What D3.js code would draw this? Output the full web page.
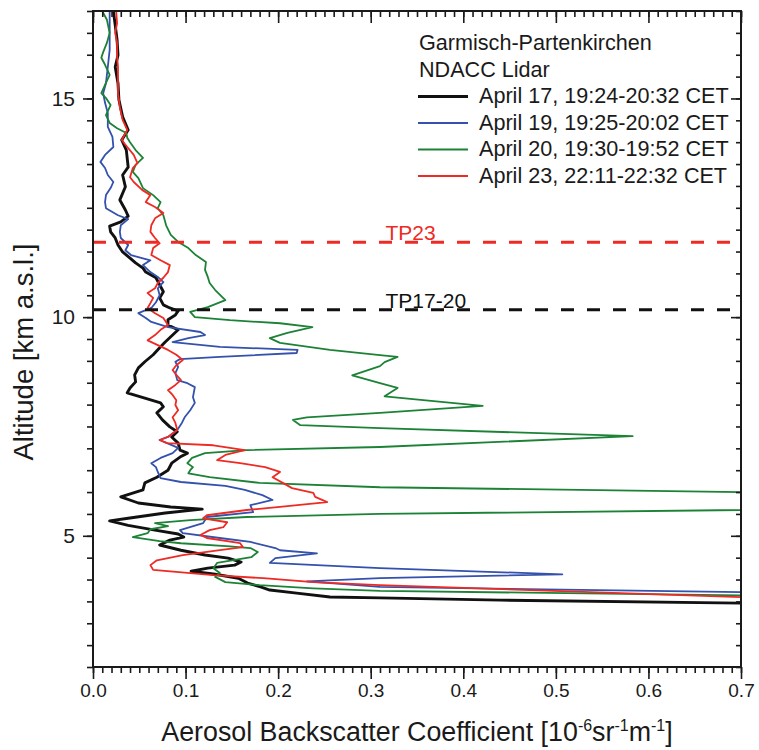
<!DOCTYPE html>
<html><head><meta charset="utf-8">
<script src="https://cdn.jsdelivr.net/npm/d3@7"></script>
<style>
body{margin:0;background:#fff}
svg{display:block}
text{font-family:"Liberation Sans",Arial,Helvetica,sans-serif;fill:#1a1a1a}
</style>
</head><body>
<svg id="chart" width="759" height="750"></svg>
<script>
// ---------- data (altitude km a.s.l., backscatter 1e-6 sr-1 m-1) ----------
const seriesNames = ["April 17, 19:24-20:32 CET","April 19, 19:25-20:02 CET","April 20, 19:30-19:52 CET","April 23, 22:11-22:32 CET"];
const seriesColors = ["#111111","#3351ad","#1c8236","#ee2a24"];
const headerLines = ["Garmisch-Partenkirchen","NDACC Lidar"];

const alt17 = [17.00,16.68,16.34,15.99,15.72,15.35,14.97,14.58,14.28,14.05,13.82,13.43,13.25,12.98,12.68,12.45,12.31,12.18,12.08,11.95,11.81,11.65,11.49,11.35,11.24,11.12,11.03,10.90,10.74,10.58,10.44,10.28,10.21,10.14,10.05,9.94,9.82,9.71,9.59,9.43,9.30,9.14,8.98,8.84,8.68,8.52,8.38,8.27,8.15,8.04,7.95,7.81,7.65,7.49,7.38,7.26,7.12,6.96,6.89,6.80,6.66,6.50,6.34,6.21,6.05,5.89,5.75,5.66,5.61,5.52,5.40,5.34,5.24,5.13,5.04,4.97,4.90,4.79,4.67,4.56,4.49,4.40,4.33,4.26,4.19,4.12,4.03,3.92,3.83,3.76,3.69,3.60,3.58,3.53,3.46,3.42];
const bsc17 = [0.022,0.024,0.026,0.027,0.024,0.027,0.028,0.032,0.038,0.031,0.036,0.038,0.032,0.035,0.029,0.035,0.038,0.030,0.018,0.019,0.024,0.027,0.032,0.040,0.046,0.054,0.057,0.068,0.072,0.076,0.072,0.076,0.083,0.092,0.089,0.081,0.081,0.092,0.086,0.078,0.072,0.065,0.056,0.049,0.045,0.046,0.040,0.037,0.056,0.073,0.076,0.069,0.075,0.083,0.091,0.085,0.092,0.094,0.102,0.094,0.085,0.081,0.069,0.056,0.054,0.030,0.049,0.084,0.118,0.078,0.038,0.018,0.038,0.067,0.092,0.098,0.083,0.072,0.095,0.121,0.146,0.160,0.153,0.124,0.106,0.132,0.157,0.167,0.181,0.191,0.220,0.256,0.310,0.440,0.700,0.764];

const alt19 = [17.00,16.50,16.11,15.72,15.35,15.12,14.90,14.67,14.35,14.12,13.89,13.71,13.55,13.41,13.25,13.09,12.95,12.79,12.63,12.49,12.33,12.24,12.10,11.95,11.81,11.65,11.53,11.42,11.30,11.19,11.03,10.92,10.80,10.66,10.50,10.34,10.21,10.09,9.98,9.89,9.77,9.66,9.59,9.52,9.43,9.32,9.25,9.18,9.09,9.04,8.98,8.86,8.72,8.56,8.49,8.40,8.17,8.04,7.87,7.71,7.58,7.42,7.26,7.19,7.12,7.01,6.89,6.78,6.66,6.57,6.46,6.32,6.23,6.14,6.05,5.93,5.82,5.70,5.54,5.43,5.29,5.13,5.06,4.95,4.86,4.72,4.67,4.60,4.49,4.38,4.26,4.12,4.03,3.96,3.83,3.71,3.64];
const bsc19 = [0.018,0.018,0.018,0.016,0.014,0.011,0.013,0.016,0.016,0.021,0.022,0.013,0.008,0.013,0.016,0.022,0.019,0.014,0.013,0.014,0.027,0.038,0.030,0.029,0.030,0.038,0.035,0.041,0.062,0.054,0.062,0.070,0.076,0.070,0.072,0.068,0.063,0.049,0.057,0.063,0.081,0.116,0.121,0.103,0.086,0.137,0.221,0.220,0.137,0.094,0.089,0.092,0.089,0.091,0.102,0.110,0.108,0.110,0.105,0.099,0.096,0.091,0.081,0.072,0.080,0.092,0.086,0.073,0.063,0.068,0.070,0.073,0.095,0.143,0.164,0.183,0.194,0.170,0.173,0.123,0.119,0.094,0.097,0.137,0.170,0.197,0.202,0.242,0.197,0.191,0.310,0.507,0.310,0.231,0.310,0.700,0.764];

const alt20 = [17.00,16.80,16.50,16.27,16.06,15.93,15.77,15.54,15.31,15.12,15.01,14.85,14.62,14.44,14.32,14.21,14.10,14.00,13.82,13.64,13.48,13.32,13.18,12.95,12.79,12.63,12.49,12.33,12.10,11.88,11.72,11.58,11.42,11.26,11.08,10.92,10.78,10.62,10.39,10.23,10.12,10.00,9.93,9.86,9.77,9.64,9.52,9.41,9.25,9.13,9.09,8.97,8.88,8.67,8.49,8.38,8.19,7.97,7.81,7.71,7.65,7.53,7.46,7.28,7.03,6.96,6.89,6.78,6.66,6.57,6.50,6.43,6.34,6.21,6.11,6.00,5.82,5.59,5.50,5.43,5.36,5.29,5.22,5.15,5.06,4.97,4.88,4.83,4.76,4.72,4.63,4.51,4.38,4.26,4.15,4.06,3.94,3.87,3.80,3.74,3.64,3.60];
const bsc20 = [0.010,0.015,0.018,0.015,0.011,0.009,0.013,0.018,0.013,0.009,0.014,0.019,0.014,0.018,0.026,0.036,0.037,0.040,0.046,0.054,0.046,0.043,0.049,0.054,0.065,0.073,0.070,0.076,0.079,0.084,0.092,0.103,0.111,0.122,0.121,0.124,0.126,0.132,0.143,0.124,0.105,0.110,0.148,0.202,0.237,0.210,0.191,0.202,0.256,0.310,0.329,0.315,0.310,0.280,0.310,0.329,0.315,0.421,0.310,0.231,0.216,0.224,0.310,0.583,0.310,0.166,0.121,0.107,0.102,0.108,0.105,0.103,0.126,0.180,0.310,0.700,0.872,0.700,0.310,0.166,0.105,0.067,0.081,0.062,0.059,0.043,0.072,0.095,0.148,0.170,0.178,0.171,0.134,0.130,0.137,0.132,0.143,0.180,0.238,0.310,0.700,0.764];

const alt23 = [17.00,16.72,16.50,16.27,15.95,15.72,15.42,15.12,14.80,14.51,14.28,14.05,13.89,13.71,13.52,13.41,13.20,13.09,12.91,12.79,12.63,12.52,12.38,12.26,12.10,11.95,11.81,11.69,11.58,11.42,11.30,11.19,11.03,10.90,10.78,10.66,10.55,10.44,10.32,10.21,10.09,9.98,9.82,9.71,9.59,9.47,9.36,9.25,9.14,9.02,8.90,8.79,8.68,8.56,8.45,8.33,8.22,8.10,7.99,7.87,7.71,7.58,7.42,7.26,7.19,7.12,7.07,6.96,6.85,6.73,6.66,6.57,6.46,6.34,6.21,6.09,5.98,5.89,5.77,5.66,5.59,5.47,5.40,5.31,5.20,5.13,5.02,4.95,4.83,4.74,4.67,4.56,4.44,4.33,4.22,4.10,4.03,3.94,3.87,3.60,3.53];
const bsc23 = [0.025,0.026,0.024,0.026,0.026,0.027,0.027,0.027,0.029,0.032,0.037,0.031,0.037,0.044,0.048,0.043,0.040,0.044,0.053,0.062,0.057,0.067,0.076,0.067,0.063,0.062,0.067,0.072,0.065,0.063,0.073,0.083,0.081,0.076,0.070,0.067,0.059,0.065,0.062,0.059,0.067,0.076,0.081,0.073,0.067,0.059,0.070,0.081,0.090,0.097,0.090,0.086,0.090,0.095,0.089,0.081,0.086,0.090,0.089,0.092,0.086,0.089,0.091,0.081,0.072,0.080,0.130,0.164,0.143,0.134,0.159,0.186,0.202,0.194,0.205,0.215,0.238,0.240,0.253,0.202,0.166,0.123,0.119,0.145,0.141,0.126,0.116,0.123,0.159,0.162,0.137,0.097,0.069,0.062,0.065,0.130,0.184,0.238,0.310,0.700,0.764];

// tropopause heights (km)
const tropoLabels = ["TP17-20","TP23"];
const tropoHeights = [10.17, 11.71];
const tropoColors = ["#111111","#ee2a24"];

const xMajorTicks = [0,0.1,0.2,0.3,0.4,0.5,0.6,0.7];
const xTickLabels = ["0.0","0.1","0.2","0.3","0.4","0.5","0.6","0.7"];
const yMajorTicks = [5,10,15];
const yTickLabels = ["5","10","15"];

// ---------- layout ----------
const L = 93, R = 741, T = 11, B = 667;
const svg = d3.select("#chart");
const x = d3.scaleLinear().domain([0, 0.7]).range([L, R]);
const y = d3.scaleLinear().domain([2, 17]).range([B, T]);

const xMinor = d3.range(0, 71).map(i => i / 100);
const yMinor = d3.range(4, 35).map(i => i / 2);

svg.append("defs").append("clipPath").attr("id","plotclip")
  .append("rect").attr("x",L).attr("y",T).attr("width",R-L).attr("height",B-T);

// ---------- profiles ----------
const series = [[alt17,bsc17],[alt19,bsc19],[alt20,bsc20],[alt23,bsc23]];
const widths = [2.9,1.8,1.8,1.8];
const line = d3.line().x(d => x(d[1])).y(d => y(d[0]));
const gLines = svg.append("g").attr("clip-path","url(#plotclip)");
series.forEach((s,i) => {
  gLines.append("path")
    .datum(d3.zip(s[0], s[1]))
    .attr("d", line)
    .attr("fill","none")
    .attr("stroke", seriesColors[i])
    .attr("stroke-width", widths[i])
    .attr("stroke-linejoin","round");
});

// ---------- tropopause lines ----------
tropoHeights.forEach((h,i) => {
  svg.append("line")
    .attr("x1", x(0)).attr("x2", x(0.7))
    .attr("y1", y(h)).attr("y2", y(h))
    .attr("stroke", tropoColors[i]).attr("stroke-width", 3)
    .attr("stroke-dasharray","13,13");
  svg.append("text")
    .attr("x", x(0.316)).attr("y", y(h) - 2)
    .attr("font-size", 21)
    .style("fill", tropoColors[i])
    .text(tropoLabels[i]);
});

// ---------- axes ----------
function styleAxis(g){
  g.select(".domain").remove();
  g.selectAll(".tick line").attr("stroke","#1a1a1a").attr("stroke-width",1.6);
}
// bottom
svg.append("g").attr("transform",`translate(0,${B})`)
  .call(d3.axisBottom(x).tickValues(xMinor).tickSize(6).tickFormat(""))
  .call(styleAxis);
const gxb = svg.append("g").attr("transform",`translate(0,${B})`)
  .call(d3.axisBottom(x).tickValues(xMajorTicks).tickSize(12).tickPadding(5)
        .tickFormat((d,i) => xTickLabels[i]))
  .call(styleAxis);
gxb.selectAll("text").attr("font-size",19).style("fill","#1a1a1a").attr("font-family",null);
// top (mirror, ticks inward)
svg.append("g").attr("transform",`translate(0,${T})`)
  .call(d3.axisBottom(x).tickValues(xMinor).tickSize(6).tickFormat(""))
  .call(styleAxis);
svg.append("g").attr("transform",`translate(0,${T})`)
  .call(d3.axisBottom(x).tickValues(xMajorTicks).tickSize(12).tickFormat(""))
  .call(styleAxis);
// left
svg.append("g").attr("transform",`translate(${L},0)`)
  .call(d3.axisLeft(y).tickValues(yMinor).tickSize(6).tickFormat(""))
  .call(styleAxis);
const gyl = svg.append("g").attr("transform",`translate(${L},0)`)
  .call(d3.axisLeft(y).tickValues(yMajorTicks).tickSize(10).tickPadding(8)
        .tickFormat((d,i) => yTickLabels[i]))
  .call(styleAxis);
gyl.selectAll("text").attr("font-size",21).style("fill","#1a1a1a").attr("font-family",null);
// right (mirror, ticks inward)
svg.append("g").attr("transform",`translate(${R},0)`)
  .call(d3.axisLeft(y).tickValues(yMinor).tickSize(5).tickFormat(""))
  .call(styleAxis);
svg.append("g").attr("transform",`translate(${R},0)`)
  .call(d3.axisLeft(y).tickValues(yMajorTicks).tickSize(10).tickFormat(""))
  .call(styleAxis);

// frame
svg.append("rect").attr("x",L).attr("y",T).attr("width",R-L).attr("height",B-T)
  .attr("fill","none").attr("stroke","#1a1a1a").attr("stroke-width",2);

// ---------- axis titles ----------
const xt = svg.append("text").attr("x",(L+R)/2).attr("y",741)
  .attr("text-anchor","middle").attr("font-size",26.8);
xt.append("tspan").text("Aerosol Backscatter Coefficient [10");
xt.append("tspan").attr("dy",-10).attr("font-size",16).text("-6");
xt.append("tspan").attr("dy",10).text("sr");
xt.append("tspan").attr("dy",-10).attr("font-size",16).text("-1");
xt.append("tspan").attr("dy",10).text("m");
xt.append("tspan").attr("dy",-10).attr("font-size",16).text("-1");
xt.append("tspan").attr("dy",10).text("]");

svg.append("text").attr("transform","translate(33,352) rotate(-90)")
  .attr("text-anchor","middle").attr("font-size",27.5)
  .text("Altitude [km a.s.l.]");

// ---------- legend ----------
const lg = svg.append("g");
headerLines.forEach((t,i) => {
  lg.append("text").attr("x",419).attr("y",50 + i*26.5).attr("font-size",21.6).text(t);
});
seriesNames.forEach((t,i) => {
  const by = 103 + i*26.5;
  lg.append("line").attr("x1",418).attr("x2",468).attr("y1",by-6.5).attr("y2",by-6.5)
    .attr("stroke",seriesColors[i]).attr("stroke-width",widths[i]);
  lg.append("text").attr("x",479).attr("y",by).attr("font-size",21.6).text(t);
});
</script>
</body></html>
